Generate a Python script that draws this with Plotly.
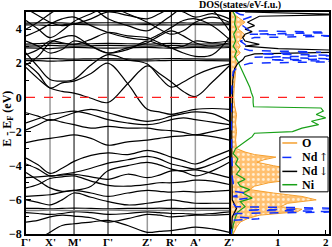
import plotly.graph_objects as go

# ---------------- data ----------------
kpath = [0, 0.5, 1, 1.5, 2, 2.707, 3.414, 4.232, 5.05, 5.55, 6.05, 6.55, 7.05, 7.757, 8.464]
sym_k = [0, 1, 2, 3.414, 5.05, 6.05, 7.05, 8.464]
sym_labels = ["Γ'", "X'", "M'", "Γ'", "Z'", "R'", "A'", "Z'"]
sym_line_colors = ["black", "#999999", "black", "black", "#999999", "black", "#999999", "black"]

valence_bands = [
    [-8.6, -8.3, -7.9, -7.5, -7.4, -7.3, -7.2, -7.5, -7.9, -7.85, -7.8, -7.7, -7.6, -7.7, -7.9],
    [-7.3, -7.2, -7.0, -6.9, -6.95, -7.05, -7.3, -7.1, -6.85, -6.9, -7.0, -6.95, -6.9, -6.9, -6.85],
    [-6.75, -6.8, -6.85, -6.8, -6.7, -6.75, -6.85, -6.8, -6.7, -6.75, -6.8, -6.8, -6.85, -6.8, -6.7],
    [-6.5, -6.5, -6.52, -6.5, -6.48, -6.5, -6.52, -6.5, -6.5, -6.49, -6.5, -6.51, -6.5, -6.5, -6.5],
    [-6.0, -6.15, -6.3, -6.0, -5.6, -5.85, -6.1, -6.3, -6.2, -6.1, -6.0, -6.1, -6.2, -6.2, -6.2],
    [-5.8, -5.75, -5.7, -5.55, -5.45, -5.6, -5.8, -5.6, -5.45, -5.5, -5.55, -5.5, -5.55, -5.5, -5.45],
    [-5.3, -5.1, -4.75, -4.65, -4.6, -4.9, -5.15, -5.2, -5.1, -5.0, -5.0, -4.95, -4.85, -4.9, -5.1],
    [-4.7, -4.65, -4.6, -4.55, -4.5, -4.65, -4.8, -4.5, -4.7, -4.55, -4.3, -4.3, -4.25, -4.45, -4.7],
    [-4.4, -4.85, -5.3, -5.5, -5.45, -5.2, -4.3, -4.0, -3.8, -3.95, -4.2, -4.35, -4.6, -4.3, -3.8],
    [-3.9, -4.2, -4.6, -4.5, -4.4, -4.15, -3.85, -3.65, -3.45, -3.6, -3.9, -4.05, -4.2, -3.9, -3.45],
    [-3.55, -3.95, -4.45, -4.15, -3.75, -3.4, -3.25, -3.35, -3.1, -3.25, -3.5, -3.7, -3.9, -3.5, -3.1],
    [-2.65, -2.5, -2.4, -2.3, -2.2, -2.4, -2.8, -2.6, -2.5, -2.4, -2.3, -2.25, -2.2, -2.3, -2.5],
    [-1.9, -1.6, -1.3, -1.45, -1.6, -1.8, -1.7, -1.8, -1.8, -1.9, -1.95, -2.05, -2.2, -2.0, -1.8],
    [-1.5, -1.25, -1.0, -0.9, -0.8, -1.0, -1.3, -1.5, -1.6, -1.5, -1.3, -1.2, -1.3, -1.45, -1.6],
    [-0.9, -1.1, -1.35, -1.15, -0.9, -0.7, -0.9, -1.2, -1.4, -1.3, -1.1, -0.95, -0.85, -0.95, -1.4],
]
gray_band = [-6.62, -6.62, -6.6, -6.62, -6.64, -6.62, -6.6, -6.62, -6.63, -6.62, -6.6, -6.62, -6.62, -6.61, -6.63]

conduction_bands = [
    [1.75, 1.1, 0.55, 0.35, 0.25, -0.05, -0.3, 0.8, 1.85, 1.4, 0.9, 0.35, 0.05, 0.9, 1.85],
    [2.0, 1.4, 0.55, 0.85, 0.95, 1.4, 2.0, 0.8, -0.7, -0.85, -1.0, -0.85, -0.7, -0.65, -0.7],
    [2.6, 1.8, 1.05, 0.95, 1.05, 1.9, 2.5, 2.2, 1.95, 1.2, 0.6, 0.9, 1.3, 1.7, 1.95],
    [2.15, 2.15, 2.12, 2.14, 2.16, 2.17, 2.18, 2.16, 2.14, 2.15, 2.16, 2.17, 2.16, 2.15, 2.14],
    [2.25, 2.26, 2.28, 2.25, 2.24, 2.26, 2.27, 2.25, 2.24, 2.26, 2.27, 2.26, 2.25, 2.24, 2.24],
    [2.9, 2.88, 2.86, 2.9, 2.92, 2.9, 2.88, 2.9, 2.92, 2.9, 2.88, 2.9, 2.92, 2.9, 2.92],
    [3.0, 3.02, 3.05, 3.02, 3.0, 3.02, 3.04, 3.02, 3.0, 3.02, 3.05, 3.02, 3.0, 3.01, 3.0],
    [3.12, 3.15, 3.18, 3.15, 3.12, 3.14, 3.16, 3.14, 3.12, 3.14, 3.16, 3.14, 3.12, 3.13, 3.12],
    [3.3, 3.0, 2.6, 2.8, 3.3, 3.0, 2.6, 2.8, 3.3, 3.1, 2.9, 3.0, 3.3, 3.2, 3.3],
    [1.9, 2.4, 3.2, 3.5, 3.6, 3.0, 2.6, 2.9, 3.2, 3.6, 3.9, 3.6, 3.2, 3.0, 3.2],
    [2.5, 2.8, 3.3, 3.2, 3.1, 3.4, 3.8, 3.6, 3.5, 3.2, 2.9, 2.6, 2.4, 2.5, 3.5],
    [3.6, 3.9, 4.3, 4.6, 4.7, 4.2, 3.8, 3.5, 3.4, 3.7, 4.1, 4.5, 4.6, 4.2, 3.4],
    [4.25, 4.24, 4.22, 4.25, 4.27, 4.25, 4.24, 4.25, 4.26, 4.25, 4.24, 4.25, 4.26, 4.25, 4.26],
    [4.35, 4.36, 4.38, 4.36, 4.34, 4.36, 4.37, 4.36, 4.35, 4.36, 4.37, 4.36, 4.35, 4.36, 4.35],
    [4.5, 4.0, 3.5, 3.9, 4.45, 4.9, 5.3, 4.9, 4.4, 4.0, 3.7, 3.9, 4.4, 4.7, 4.4],
    [5.2, 4.8, 4.4, 4.2, 4.3, 4.6, 5.0, 4.8, 4.6, 4.9, 5.2, 5.0, 4.7, 4.9, 4.6],
    [4.0, 4.4, 4.9, 5.3, 5.5, 5.3, 4.6, 4.2, 3.9, 4.3, 4.8, 5.3, 5.5, 5.1, 3.9],
]

# DOS (energy grids + values)
o_energy = [5.0, 4.8, 4.6, 4.4, 4.2, 4.0, 3.8, 3.6, 3.4, 3.2, 3.0, 2.8, 2.6, 2.4, 2.2, 2.0, 1.5, 1.0, 0.5, 0.0,
            -0.5, -1.0, -1.5, -2.0, -2.5, -3.0, -3.2, -3.35, -3.5, -3.65, -3.8, -4.0, -4.2, -4.4, -4.6, -4.8,
            -5.0, -5.2, -5.4, -5.6, -5.8, -6.0, -6.2, -6.4, -6.55, -6.7, -6.9, -7.1, -7.3, -7.6, -8.0]
o_dos = [0.05, 0.1, 0.2, 0.3, 0.2, 0.15, 0.25, 0.3, 0.2, 0.15, 0.2, 0.15, 0.2, 0.12, 0.1, 0.12, 0.1, 0.08, 0.07, 0.06,
         0.08, 0.12, 0.1, 0.12, 0.1, 0.12, 0.3, 0.5, 0.95, 0.7, 0.55, 0.9, 1.3, 1.45, 1.2, 1.35,
         0.8, 0.5, 0.4, 0.9, 1.5, 1.8, 1.2, 1.05, 1.5, 1.4, 0.6, 0.35, 0.2, 0.12, 0.05]

ndup_energy = [5.0, 4.85, 4.75, 4.5, 4.3, 4.1, 3.9, 3.8, 3.7, 3.6, 3.5, 3.3, 3.1, 2.9, 2.75, 2.65, 2.55, 2.45, 2.35,
               2.25, 2.2, 2.1, 2.0, 1.8, 1.5, 1.0, 0.5, 0.0, -1.0, -2.0, -3.0, -3.5, -4.0, -4.5, -5.0, -5.5, -5.6,
               -5.8, -5.9, -6.0, -6.2, -6.4, -6.5, -6.6, -6.7, -6.8, -7.0, -7.1, -7.2, -7.5, -8.0]
ndup_dos = [0.1, 0.2, 0.45, 0.2, 0.2, 0.3, 0.4, 2.4, 0.4, 2.4, 0.5, 0.2, 0.3, 0.2, 0.4, 1.9, 0.6, 2.4, 0.5,
            2.4, 0.8, 2.4, 0.4, 0.15, 0.05, 0.03, 0.02, 0.01, 0.01, 0.01, 0.01, 0.02, 0.03, 0.02, 0.05, 0.05, 0.3,
            0.05, 0.35, 0.08, 0.05, 0.1, 2.4, 0.3, 2.4, 0.1, 0.05, 0.6, 0.05, 0.02, 0.01]

nddn_energy = [5.0, 4.85, 4.75, 4.6, 4.4, 4.2, 4.0, 3.85, 3.7, 3.5, 3.3, 3.1, 3.0, 2.85, 2.75, 2.65, 2.55, 2.4,
               2.2, 2.0, 1.7, 1.0, 0.0, -2.0, -4.0, -6.0, -6.5, -7.0, -8.0]
nddn_dos = [0.3, 2.4, 0.6, 0.5, 0.35, 0.5, 0.3, 0.45, 0.3, 0.25, 0.3, 0.6, 0.3, 1.0, 2.4, 2.4, 0.5, 0.3,
            0.25, 0.15, 0.08, 0.04, 0.03, 0.02, 0.02, 0.03, 0.12, 0.03, 0.01]

ni_energy = [5.0, 4.7, 4.3, 4.0, 3.7, 3.3, 3.0, 2.7, 2.4, 2.1, 1.8, 1.5, 1.2, 0.9, 0.6, 0.3, 0.0, -0.3, -0.55,
             -0.62, -0.8, -1.0, -1.2, -1.4, -1.6, -1.8, -2.0, -2.1, -2.3, -2.5, -2.7, -3.0, -3.3, -3.6, -3.9,
             -4.2, -4.5, -4.8, -5.0, -5.2, -5.4, -5.6, -5.9, -6.1, -6.4, -6.7, -7.0, -7.5, -8.0]
ni_dos = [0.05, 0.1, 0.08, 0.12, 0.06, 0.1, 0.05, 0.12, 0.08, 0.15, 0.2, 0.25, 0.3, 0.35, 0.4, 0.43, 0.47, 0.47, 0.48,
          1.9, 1.95, 1.8, 2.0, 1.7, 1.85, 1.5, 1.3, 0.5, 0.45, 0.35, 0.25, 0.1, 0.05, 0.15, 0.1,
          0.2, 0.12, 0.3, 0.15, 0.2, 0.4, 0.25, 0.45, 0.2, 0.3, 0.15, 0.1, 0.05, 0.02]

dos_ticks = [1, 2]
legend_names = ["O", "Nd↑", "Nd↓", "Ni"]
O_COLOR, NDUP_COLOR, NDDN_COLOR, NI_COLOR = "#F5A030", "#1030FF", "black", "#18A018"
legend_styles = [(O_COLOR, "solid"), (NDUP_COLOR, "dash"), (NDDN_COLOR, "solid"), (NI_COLOR, "solid")]

# ---------------- figure ----------------
FONT = "Liberation Serif, Times New Roman, serif"
ARROW_FONT = "DejaVu Serif, DejaVu Sans, serif"
fig = go.Figure()

for band in valence_bands + conduction_bands:
    fig.add_trace(go.Scatter(x=kpath, y=band, mode="lines", line=dict(color="black", width=1.2, shape="spline"),
                             showlegend=False, hoverinfo="skip", xaxis="x", yaxis="y"))
fig.add_trace(go.Scatter(x=kpath, y=gray_band, mode="lines", line=dict(color="#808080", width=1.5, shape="spline"),
                         showlegend=False, hoverinfo="skip", xaxis="x", yaxis="y"))

# DOS
fig.add_trace(go.Scatter(x=o_dos, y=o_energy, mode="lines", fill="tozerox", fillcolor="#FFC878",
                         fillpattern=dict(shape=".", bgcolor="#FFC070", fgcolor="#FFF0D8", size=5, solidity=0.25),
                         line=dict(color=O_COLOR, width=1), showlegend=False, xaxis="x2", yaxis="y2"))
fig.add_trace(go.Scatter(x=ni_dos, y=ni_energy, mode="lines", line=dict(color=NI_COLOR, width=1.2),
                         showlegend=False, xaxis="x2", yaxis="y2"))
fig.add_trace(go.Scatter(x=nddn_dos, y=nddn_energy, mode="lines", line=dict(color=NDDN_COLOR, width=1.2),
                         showlegend=False, xaxis="x2", yaxis="y2"))
fig.add_trace(go.Scatter(x=ndup_dos, y=ndup_energy, mode="lines", line=dict(color=NDUP_COLOR, width=1.5, dash="dash"),
                         showlegend=False, xaxis="x2", yaxis="y2"))

shapes = []
for kx, c in zip(sym_k[1:-1], sym_line_colors[1:-1]):
    shapes.append(dict(type="line", xref="x", yref="y", x0=kx, x1=kx, y0=-8, y1=5,
                       line=dict(color=c, width=1.5 if c != "black" else 1), layer="below"))
shapes.append(dict(type="line", xref="paper", yref="y", x0=0, x1=1, y0=0, y1=0,
                   line=dict(color="#FF2020", width=1.2, dash="dash")))

annotations = []
# k-point labels along the bottom
for kx, lab in zip(sym_k, sym_labels):
    annotations.append(dict(text="<b>" + lab + "</b>", xref="x", yref="paper", x=kx, y=0, yanchor="top",
                            yshift=0, showarrow=False, font=dict(family=FONT, size=11, color="black")))
# DOS axis labels
for dv in dos_ticks:
    annotations.append(dict(text="<b>%d</b>" % dv, xref="x2", yref="paper", x=dv, y=0, yanchor="top",
                            yshift=0, showarrow=False, font=dict(family=FONT, size=11, color="black")))

# manual legend (box, line samples, labels)
shapes.append(dict(type="rect", xref="paper", yref="paper", x0=0.838, x1=0.997, y0=0.19, y1=0.437,
                   fillcolor="white", line=dict(color="black", width=1)))
row_y = [0.41, 0.345, 0.282, 0.222]
for (col, dash), name, ry in zip(legend_styles, legend_names, row_y):
    shapes.append(dict(type="line", xref="paper", yref="paper", x0=0.846, x1=0.895, y0=ry, y1=ry,
                       line=dict(color=col, width=1.5, dash=dash)))
    if name[-1] in "↑↓":
        annotations.append(dict(text="<b>" + name[:-1] + "</b>", xref="paper", yref="paper", x=0.903, y=ry,
                                xanchor="left", yanchor="middle", showarrow=False,
                                font=dict(family=FONT, size=12, color="black")))
        annotations.append(dict(text=name[-1], xref="paper", yref="paper", x=0.962, y=ry,
                                xanchor="left", yanchor="middle", showarrow=False,
                                font=dict(family=ARROW_FONT, size=11, color="black")))
    else:
        annotations.append(dict(text="<b>" + name + "</b>", xref="paper", yref="paper", x=0.903, y=ry,
                                xanchor="left", yanchor="middle", showarrow=False,
                                font=dict(family=FONT, size=12, color="black")))

annotations.append(dict(text="<b>DOS(states/eV-f.u.)</b>", xref="paper", yref="paper", x=0.848, y=1.0,
                        yanchor="bottom", showarrow=False, font=dict(family=FONT, size=10, color="black"),
                        yshift=-1))
annotations.append(dict(text="<b>E - E<sub>F</sub> (eV)</b>", xref="paper", yref="paper", x=-0.062, y=0.52,
                        xanchor="center", yanchor="middle", textangle=-90, showarrow=False,
                        font=dict(family=FONT, size=12, color="black")))

fig.update_layout(
    template="none",
    width=332, height=247,
    margin=dict(l=26, r=3, t=12, b=13, autoexpand=False),
    paper_bgcolor="white", plot_bgcolor="white",
    shapes=shapes,
    annotations=annotations,
    xaxis=dict(domain=[0, 0.671], range=[0, 8.464], showticklabels=False, automargin=False,
               showgrid=False, zeroline=False, showline=True, mirror=True, linecolor="black", linewidth=1.5,
               ticks=""),
    yaxis=dict(range=[-8, 5], tickvals=[-8, -6, -4, -2, 0, 2, 4], automargin=False,
               tickfont=dict(family=FONT, size=12, color="black", weight="bold"),
               showgrid=False, zeroline=False, showline=True, mirror=True, linecolor="black", linewidth=1.5,
               ticks="inside", ticklen=5, tickcolor="black",
               minor=dict(ticks="inside", ticklen=3, dtick=1, tickcolor="black")),
    xaxis2=dict(domain=[0.676, 1], range=[0, 2.07], tickvals=[0, 1, 2], showticklabels=False, automargin=False,
                showgrid=False, zeroline=False, showline=True, mirror=True, linecolor="black", linewidth=1.5,
                ticks="inside", ticklen=4, tickcolor="black", anchor="y2"),
    yaxis2=dict(range=[-8, 5], anchor="x2", showticklabels=False, showgrid=False, zeroline=False, automargin=False,
                showline=True, mirror=True, linecolor="black", linewidth=1.5, ticks=""),
    showlegend=False,
)

fig.write_html("out.html", config={"displayModeBar": False},
               post_script="document.body.style.margin='0px';document.body.style.overflow='hidden';")
